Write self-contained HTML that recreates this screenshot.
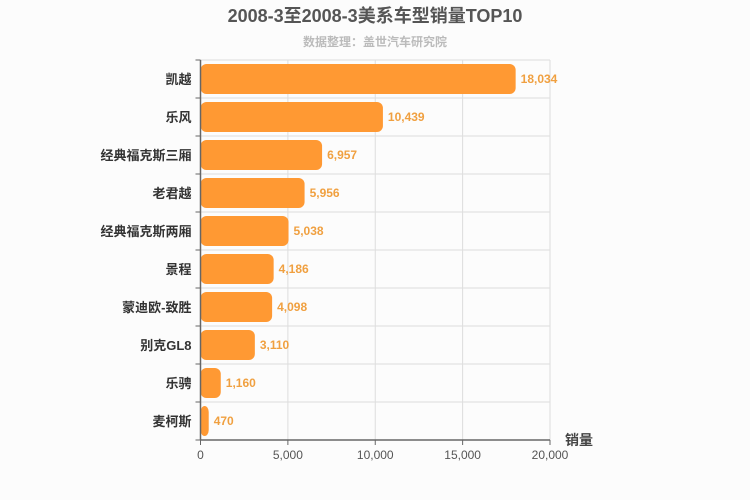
<!DOCTYPE html>
<html><head><meta charset="utf-8"><style>
body{margin:0;background:#fcfcfc;}
svg{display:block;font-family:"Liberation Sans","Noto Sans CJK SC",sans-serif;}
</style></head><body>
<svg id="c" width="750" height="500">
<rect width="750" height="500" fill="#fcfcfc"/>
<text x="375" y="22" text-anchor="middle" font-size="18" font-weight="bold" fill="#555">2008-3至2008-3美系车型销量TOP10</text>
<text x="375" y="46" text-anchor="middle" font-size="12" font-weight="bold" fill="#bbb">数据整理：盖世汽车研究院</text>
<text x="565" y="445" font-size="14" font-weight="bold" fill="#444">销量</text>
<g id="g"></g>
</svg>
<script>
const categories=["凯越","乐风","经典福克斯三厢","老君越","经典福克斯两厢","景程","蒙迪欧-致胜","别克GL8","乐骋","麦柯斯"];
const values=[18034,10439,6957,5956,5038,4186,4098,3110,1160,470];
const ticks=[0,5000,10000,15000,20000];
const tickLabels=["0","5,000","10,000","15,000","20,000"];
const X0=200.5,X1=550,Y0=60,Y1=440,MAX=20000;
const xs=v=>X0+(X1-X0)*v/MAX;
const rh=(Y1-Y0)/categories.length;
const g=document.getElementById('g');
const NS="http://www.w3.org/2000/svg";
function mk(t,a){const e=document.createElementNS(NS,t);for(const k in a)e.setAttribute(k,a[k]);g.appendChild(e);return e;}
for(let i=0;i<=categories.length;i++){const y=Y0+i*rh;
const l=mk('line',{x1:X0,x2:X1,y1:y,y2:y,stroke:'#ddd'});

}
ticks.forEach((t,i)=>{const x=xs(t);
if(i>0){const l=mk('line',{x1:x,x2:x,y1:Y0,y2:Y1,stroke:'#ddd'});

}
const tk=mk('line',{x1:x,x2:x,y1:Y1,y2:Y1+5,stroke:'#666'});


const tx=mk('text',{x:x,y:Y1+19,'text-anchor':'middle','font-size':12,fill:'#555'});
tx.textContent=tickLabels[i];

});
categories.forEach((c,i)=>{const y=Y0+i*rh;
const b=mk('rect',{x:X0,y:y+4,width:Math.max(xs(values[i])-X0,2),height:rh-8,rx:6,fill:'#ff9933'});


const v=mk('text',{x:xs(values[i])+5,y:y+rh/2+4,'font-size':12,'font-weight':'bold',fill:'#f0a040'});
v.textContent=values[i].toLocaleString('en-US');


const t=mk('text',{x:X0-9,y:y+rh/2+5,'text-anchor':'end','font-size':13,'font-weight':'bold',fill:'#333'});
t.textContent=c;


const tk=mk('line',{x1:X0-5,x2:X0,y1:y,y2:y,stroke:'#666'});

});
const tk=mk('line',{x1:X0-5,x2:X0,y1:Y1,y2:Y1,stroke:'#666'});


const ya=mk('line',{x1:X0,x2:X0,y1:Y0,y2:Y1,stroke:'#666','stroke-width':1.5});


const xa=mk('line',{x1:X0,x2:X1,y1:Y1,y2:Y1,stroke:'#666','stroke-width':1.5});


</script>
</body></html>
